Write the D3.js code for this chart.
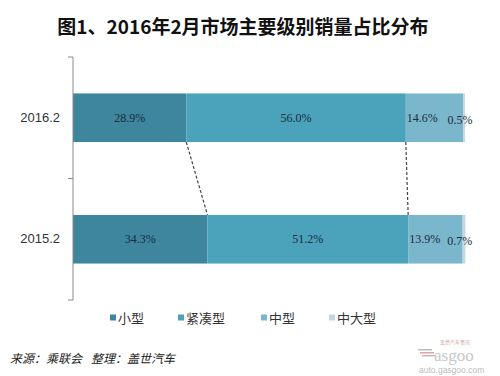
<!DOCTYPE html>
<html>
<head>
<meta charset="utf-8">
<script src="https://cdn.jsdelivr.net/npm/d3@7"></script>
<style>
  body { margin: 0; background: #fff; }
  svg { display: block; }
  .cat text { font-family: "Liberation Sans", Arial, sans-serif; font-size: 13px; fill: #333; }
  .val { font-family: "Liberation Serif", "Times New Roman", serif; font-size: 12px; fill: #1c2c3c; }
</style>
</head>
<body>
<div id="chart"></div>
<script>
// Data
const periods = ['2016.2', '2015.2']
const classes = ['小型', '紧凑型', '中型', '中大型']
const shares = {
  '2016.2': [28.9, 56.0, 14.6, 0.5],
  '2015.2': [34.3, 51.2, 13.9, 0.7]
}
const colors = ['#3d869d', '#4aa2bb', '#7ab7cc', '#c3d8e6']

const title = '图1、2016年2月市场主要级别销量占比分布'
const source = ['来源：乘联会', '整理：盖世汽车']

const width = 500, height = 376
const svg = d3.select('#chart').append('svg')
  .attr('width', width)
  .attr('height', height)

// Title
svg.append('text')
  .attr('x', 243)
  .attr('y', 34)
  .attr('text-anchor', 'middle')
  .style('font-family', '"Noto Sans CJK SC", sans-serif')
  .style('font-weight', 'bold')
  .style('font-size', '19px')
  .style('fill', '#111')
  .text(title)

// Scales
const x = d3.scaleLinear().domain([0, 100]).range([73, 465])
const y = d3.scaleBand().domain(periods).range([57, 300]).paddingInner(0.6).paddingOuter(0.3)
const yBand = d3.scaleBand().domain(periods).range([57, 300])

// Stack the shares
const rows = periods.map(p => {
  let acc = 0
  return shares[p].map((v, i) => {
    const seg = { period: p, cls: i, value: v, x0: acc, x1: acc + v }
    acc += v
    return seg
  })
})

// Dashed connectors between the two bars
const conn = svg.append('g')
for (let i = 0; i < 2; i++) {
  const a = rows[0][i], b = rows[1][i]
  conn.append('line')
    .attr('x1', x(a.x1)).attr('y1', y(a.period) + y.bandwidth())
    .attr('x2', x(b.x1)).attr('y2', y(b.period))
    .attr('stroke', '#444')
    .attr('stroke-width', 1.2)
    .attr('stroke-dasharray', '3,2')
}

// Bars
const bars = svg.append('g')
rows.forEach(r => {
  bars.selectAll(null)
    .data(r)
    .enter().append('rect')
    .attr('x', d => x(d.x0))
    .attr('y', d => y(d.period))
    .attr('width', d => x(d.x1) - x(d.x0))
    .attr('height', y.bandwidth())
    .style('fill', d => colors[d.cls])
})

// Value labels
rows.forEach(r => {
  bars.selectAll(null)
    .data(r)
    .enter().append('text')
    .attr('class', 'val')
    .attr('x', d => d.cls === 2 ? x(d.x0) + 1 : d.cls === 3 ? x(d.x0) - 3 : (x(d.x0) + x(d.x1)) / 2)
    .attr('y', d => y(d.period) + y.bandwidth() / 2 + (d.cls === 3 ? 6 : 4))
    .attr('text-anchor', d => d.cls === 2 ? 'start' : 'middle')
    .text(d => d.value.toFixed(1) + '%')
})

// Y axis: line with ticks at band edges
const axis = svg.append('g')
axis.append('line')
  .attr('x1', 73).attr('x2', 73)
  .attr('y1', 57).attr('y2', 300)
  .attr('stroke', '#8a8a8a')
const edges = periods.map(p => yBand(p)).concat([yBand.range()[1]])
axis.selectAll('.tk')
  .data(edges)
  .enter().append('line')
  .attr('x1', 68).attr('x2', 73)
  .attr('y1', d => d).attr('y2', d => d)
  .attr('stroke', '#8a8a8a')

const cat = svg.append('g')
  .attr('class', 'cat')
  .attr('transform', 'translate(73,0)')
  .call(d3.axisLeft(y).tickSize(0).tickPadding(13))
cat.select('.domain').remove()

// Legend
const legendX = [110, 178, 261, 329]
const legend = svg.append('g')
  .selectAll('g')
  .data(classes)
  .enter().append('g')
  .attr('transform', (d, i) => 'translate(' + legendX[i] + ',318)')
legend.append('rect')
  .attr('x', 0).attr('y', -3.5)
  .attr('width', 6).attr('height', 6)
  .style('fill', (d, i) => colors[i])
legend.append('text')
  .attr('x', 8)
  .attr('y', 5)
  .style('font-family', '"Noto Sans CJK SC", sans-serif')
  .style('font-size', '13px')
  .style('fill', '#333')
  .text(d => d)

// Source line
svg.selectAll('.src')
  .data(source)
  .enter().append('text')
  .attr('class', 'src')
  .attr('x', (d, i) => i === 0 ? 10 : 91)
  .attr('y', 363)
  .style('font-family', '"Noto Sans CJK SC", sans-serif')
  .style('font-size', '12px')
  .style('font-style', 'italic')
  .style('fill', '#222')
  .text(d => d)

// Watermark logo
const logo = svg.append('g').attr('transform', 'translate(418,340)')
logo.selectAll('rect')
  .data([0, 1, 2])
  .enter().append('rect')
  .attr('x', d => d * 2)
  .attr('y', d => 9 + d * 3)
  .attr('width', 14)
  .attr('height', 1.5)
  .style('fill', (d, i) => i === 1 ? '#e8a0a0' : '#bbb')
logo.append('text')
  .attr('x', 16).attr('y', 21)
  .style('font-family', '"Liberation Serif", serif')
  .style('font-size', '17px')
  .style('fill', '#c8c8c8')
  .text('asgoo')
logo.append('text')
  .attr('x', 22).attr('y', 4)
  .style('font-family', '"Noto Sans CJK SC", sans-serif')
  .style('font-size', '5px')
  .style('fill', '#c9a0a0')
  .text('盖世汽车资讯')
logo.append('text')
  .attr('x', 1).attr('y', 33)
  .style('font-family', '"Liberation Sans", sans-serif')
  .style('font-size', '8.5px')
  .style('fill', '#bdbdbd')
  .text('auto.gasgoo.com')
</script>
</body>
</html>
